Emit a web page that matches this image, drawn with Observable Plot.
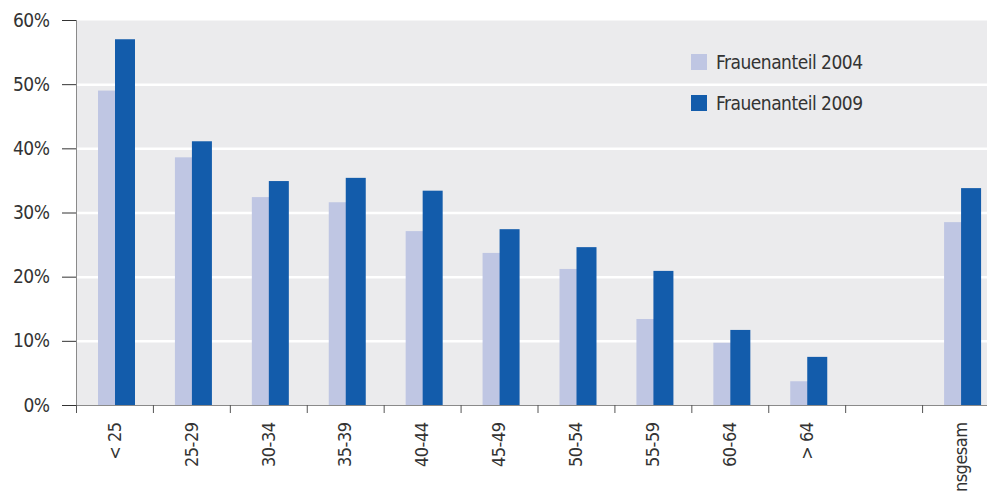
<!DOCTYPE html>
<html>
<head>
<meta charset="utf-8">
<script src="https://cdn.jsdelivr.net/npm/d3@7"></script>
<script src="https://cdn.jsdelivr.net/npm/@observablehq/plot@0.6"></script>
<style>
  html, body { margin: 0; padding: 0; background: #fff; overflow: hidden; }
  #wrap { position: relative; width: 987px; height: 492px; }
  #wrap svg text { letter-spacing: -0.5px; }
  .lg { position: absolute; left: 691px; font-family: "Liberation Sans Narrow", "DejaVu Sans Condensed", "Roboto Condensed", Roboto, sans-serif; font-stretch: condensed; font-size: 19px; letter-spacing: -0.5px; color: #333; display: flex; align-items: center; height: 20px; }
  .lg span.sw { display: inline-block; width: 16px; height: 16px; margin-right: 9px; }
</style>
</head>
<body>
<div id="wrap"></div>
<script>
const categories = ["< 25","25-29","30-34","35-39","40-44","45-49","50-54","55-59","60-64","> 64","","nsgesam"];
const share2004 = [49.0,38.6,32.4,31.6,27.1,23.7,21.2,13.4,9.7,3.7,null,28.5];
const share2009 = [57.0,41.1,34.9,35.4,33.4,27.4,24.6,20.9,11.7,7.5,null,33.8];
const yTicks = [0,10,20,30,40,50,60];
const gridTicks = [10,20,30,40,50];
const seriesNames = ["Frauenanteil 2004","Frauenanteil 2009"];
const seriesColors = ["#BFC6E3","#135CAB"];

const data = categories.map((c,i)=>({cat:c, a:share2004[i], b:share2009[i]}));
const W = 987, H = 492;
const x0 = 76, x1 = 999;
const bw = (x1 - x0) / categories.length;
const font = '"Liberation Sans Narrow", "DejaVu Sans Condensed", "Roboto Condensed", Roboto, sans-serif';

const chart = Plot.plot({
  width: W, height: H,
  marginLeft: 76, marginRight: 0, marginTop: 20, marginBottom: 87,
  style: {fontFamily: font, fontSize: "19px", color: "#333", background: "#fff"},
  x: {type: "band", domain: categories, range: [x0, x1], padding: 0, align: 0.5, round: false},
  y: {domain: [0, 60], range: [405, 20]},
  marks: [
    Plot.frame({fill: "#EBEBED", stroke: null}),
    Plot.gridY(gridTicks, {stroke: "#fff", strokeOpacity: 1, strokeWidth: 2.5}),
    Plot.barY(data.filter(d=>d.a!=null), {x: "cat", y: "a", fill: seriesColors[0], insetLeft: 22, insetRight: bw - 41}),
    Plot.barY(data.filter(d=>d.b!=null), {x: "cat", y: "b", fill: seriesColors[1], insetLeft: 39, insetRight: bw - 59}),
    Plot.frame({anchor: "left", stroke: "#8a8a8a"}),
    Plot.frame({anchor: "bottom", stroke: "#8a8a8a"}),
    Plot.axisY({ticks: yTicks, tickFormat: d => d + "%", tickSize: 14, tickPadding: 13, fontSize: 19, stroke: "#333", fill: "#333", label: null}),
    Plot.axisX({tickSize: 8, dx: -bw/2, tickFormat: () => "", stroke: "#555", label: null}),
    Plot.axisX({tickSize: 0, tickPadding: 17, tickRotate: -90, fontSize: 18, fill: "#333", label: null})
  ]
});
const wrap = document.getElementById("wrap");
wrap.appendChild(chart);
const tops = [52, 93];
seriesNames.forEach((n,i)=>{
  const d = document.createElement("div");
  d.className = "lg";
  d.style.top = tops[i] + "px";
  d.innerHTML = `<span class="sw" style="background:${seriesColors[i]}"></span><span>${n}</span>`;
  wrap.appendChild(d);
});
</script>
</body>
</html>
